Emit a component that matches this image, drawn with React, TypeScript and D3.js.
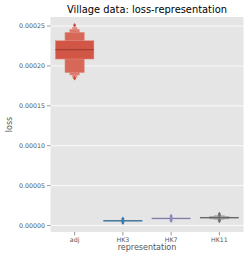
import React from "react";
import * as d3 from "d3";

const categories = ["adj", "HK3", "HK7", "HK11"];
const colors = ["#D04F3D", "#3E84B3", "#9690CB", "#777777"];
const medians = [0.0002203, 0.000006, 0.000009, 0.0000098];
// letter-value boxes, innermost first: [low, high]
const levelsAdj: [number, number][] = [
  [0.0002086, 0.0002316],
  [0.0001915, 0.0002421],
  [0.0001886, 0.0002459],
  [0.0001857, 0.0002484],
];
const levelsHK3: [number, number][] = [[0.0000059, 0.0000061]];
const levelsHK7: [number, number][] = [[0.0000089, 0.0000091]];
const levelsHK11: [number, number][] = [
  [0.0000092, 0.0000104],
  [0.0000082, 0.0000115],
  [0.0000075, 0.0000125],
];
const levels = [levelsAdj, levelsHK3, levelsHK7, levelsHK11];
const outliersAdj = [0.0002509, 0.0001845];
const outliersHK3 = [0.0000035, 0.000005, 0.0000068, 0.0000085];
const outliersHK7 = [0.0000058, 0.0000072, 0.0000106, 0.000012];
const outliersHK11 = [0.0000055, 0.0000072, 0.0000125, 0.0000145];
const outliers = [outliersAdj, outliersHK3, outliersHK7, outliersHK11];
const yTicks = [0, 0.00005, 0.0001, 0.00015, 0.0002, 0.00025];
const yTickLabels = ["0.00000", "0.00005", "0.00010", "0.00015", "0.00020", "0.00025"];

const W = 249, H = 261;
const left = 50.5, right = 243.5, top = 17, bottom = 232;

function lighten(c: string, t: number) {
  return d3.interpolateRgb(c, "#ffffff")(t);
}

export default function App() {
  const x = d3.scaleBand<string>().domain(categories).range([left, right]).padding(0);
  const y = d3.scaleLinear().domain([-8.15e-6, 0.0002613]).range([bottom, top]);
  const bw = x.bandwidth() * 0.8;
  const font = "DejaVu Sans";
  return (
    <svg width={W} height={H} style={{ position: "absolute", left: 0, top: 0 }}>
      <rect x={0} y={0} width={W} height={H} fill="#ffffff" />
      <rect x={left} y={top} width={right - left} height={bottom - top} fill="#E5E5E5" />
      {yTicks.map((t, i) => (
        <g key={i}>
          <line x1={left} x2={right} y1={y(t)} y2={y(t)} stroke="#ffffff" strokeWidth={0.8} />
          <line x1={left - 3.5} x2={left} y1={y(t)} y2={y(t)} stroke="#555555" strokeWidth={0.6} />
          <text x={left - 5.5} y={y(t)} dy="0.35em" textAnchor="end" fontSize={6.3} fill="#555555" fontFamily={font}>
            {yTickLabels[i]}
          </text>
        </g>
      ))}
      {categories.map((c, i) => {
        const cx = x(c)! + x.bandwidth() / 2;
        const lv = levels[i];
        const n = lv.length;
        return (
          <g key={c}>
            <line x1={cx} x2={cx} y1={bottom} y2={bottom + 3.5} stroke="#555555" strokeWidth={0.6} />
            <text x={cx} y={bottom + 10} textAnchor="middle" fontSize={6.3} fill="#555555" fontFamily={font}>
              {c}
            </text>
            {lv
              .map((l, k) => ({ l, k }))
              .reverse()
              .map(({ l, k }) => {
                const w = bw / Math.pow(2, k);
                const y0 = y(l[1]);
                const y1 = y(l[0]);
                return (
                  <rect
                    key={k}
                    x={cx - w / 2}
                    y={y0}
                    width={w}
                    height={Math.max(y1 - y0, 0.8)}
                    fill={lighten(colors[i], n > 1 ? 0.04 + 0.3 * (k / (n - 1)) : 0.25)}
                    stroke={lighten(colors[i], 0.4)}
                    strokeWidth={0.5}
                  />
                );
              })}
            <line
              x1={cx - bw / 2}
              x2={cx + bw / 2}
              y1={y(medians[i])}
              y2={y(medians[i])}
              stroke={d3.interpolateRgb(colors[i], "#000")(0.3)}
              strokeWidth={0.9}
            />
            {outliers[i].map((o, j) => {
              const py = y(o);
              return (
                <path
                  key={j}
                  d={`M${cx},${py - 2.2}L${cx + 1.6},${py}L${cx},${py + 2.2}L${cx - 1.6},${py}Z`}
                  fill={d3.interpolateRgb(colors[i], "#000")(0.05)}
                />
              );
            })}
          </g>
        );
      })}
      <text x={(left + right) / 2} y={12.5} textAnchor="middle" fontSize={9.9} fill="#000" fontFamily={font}>
        Village data: loss-representation
      </text>
      <text x={(left + right) / 2} y={250} textAnchor="middle" fontSize={8} fill="#555555" fontFamily={font}>
        representation
      </text>
      <text
        transform={`translate(${11.5},${(top + bottom) / 2}) rotate(-90)`}
        textAnchor="middle"
        fontSize={8}
        fill="#555555"
        fontFamily={font}
      >
        loss
      </text>
    </svg>
  );
}
